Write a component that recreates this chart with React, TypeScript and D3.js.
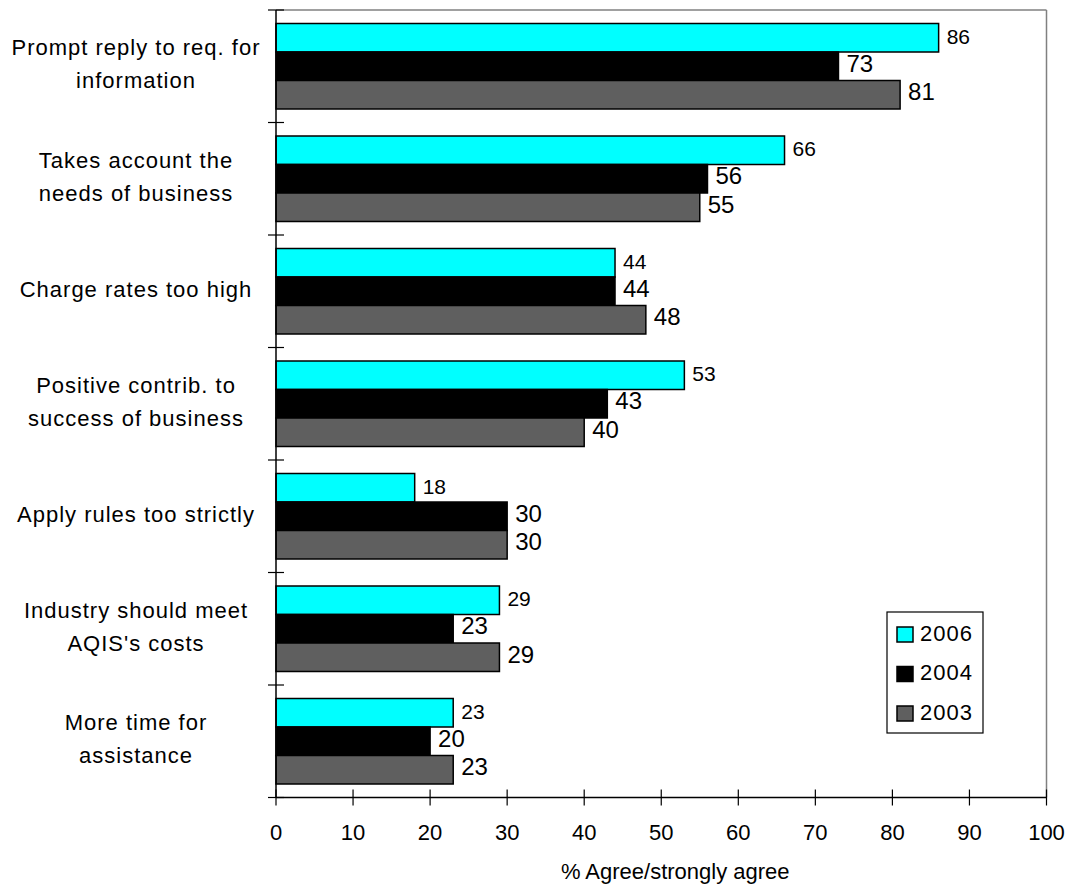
import React from "react";
import * as d3 from "d3";

const categories: string[][] = [
  ["Prompt reply to req. for", "information"],
  ["Takes account the", "needs of business"],
  ["Charge rates too high"],
  ["Positive contrib. to", "success of business"],
  ["Apply rules too strictly"],
  ["Industry should meet", "AQIS's costs"],
  ["More time for", "assistance"],
];
const seriesNames = ["2006", "2004", "2003"];
const v2006 = [86, 66, 44, 53, 18, 29, 23];
const v2004 = [73, 56, 44, 43, 30, 23, 20];
const v2003 = [81, 55, 48, 40, 30, 29, 23];
const colors = ["#00FFFF", "#000000", "#5F5F5F"];
const xTicks = [0, 10, 20, 30, 40, 50, 60, 70, 80, 90, 100];
const axisTitle = "% Agree/strongly agree";

export default function App() {
  const W = 1076, H = 886;
  const left = 276, right = 1046.5, top = 10, bottom = 797.5;
  const font = "Arial, 'Liberation Sans', sans-serif";
  const x = d3.scaleLinear().domain([0, 100]).range([left, right]);
  const idx = categories.map((_, i) => i);
  const y = d3.scaleBand<number>().domain(idx).range([top, bottom]).paddingInner(0.24).paddingOuter(0.12);
  const inner = d3.scaleBand<string>().domain(seriesNames).range([0, y.bandwidth()]);
  const series = [v2006, v2004, v2003];
  const labelSizes = [21, 24, 24];
  const labelShift = [-1.5, -3, -3];
  const step = (bottom - top) / categories.length;
  const boundaries = d3.range(categories.length + 1).map((i) => top + i * step);
  return (
    <svg width={W} height={H} style={{ position: "absolute", left: 0, top: 0 }} fontFamily={font}>
      <rect x={0} y={0} width={W} height={H} fill="#fff" />
      <line x1={left} x2={right} y1={top} y2={top} stroke="#808080" strokeWidth={1.5} />
      <line x1={right} x2={right} y1={top} y2={bottom} stroke="#808080" strokeWidth={1.5} />
      {idx.map((ci) =>
        series.map((s, si) => {
          const by = (y(ci) as number) + (inner(seriesNames[si]) as number);
          const bh = inner.bandwidth();
          return (
            <g key={`${ci}-${si}`}>
              <rect x={x(0)} y={by} width={x(s[ci]) - x(0)} height={bh} fill={colors[si]} stroke="#000" strokeWidth={1.5} />
              <text x={x(s[ci]) + 8} y={by + bh / 2 + labelShift[si]} dy="0.36em" fontSize={labelSizes[si]} fill="#000">{s[ci]}</text>
            </g>
          );
        })
      )}
      <line x1={left} x2={left} y1={top} y2={bottom} stroke="#000" strokeWidth={1.5} />
      {boundaries.map((b, i) => (
        <line key={i} x1={left - 8} x2={left + 8} y1={b} y2={b} stroke="#000" strokeWidth={1.2} />
      ))}
      <line x1={left} x2={right} y1={bottom} y2={bottom} stroke="#000" strokeWidth={1.5} />
      {xTicks.map((t) => (
        <g key={t}>
          <line x1={x(t)} x2={x(t)} y1={bottom - 8} y2={bottom + 8} stroke="#000" strokeWidth={1.2} />
          <text x={x(t)} y={bottom + 35} dy="0.36em" textAnchor="middle" fontSize={22} fill="#000">{t}</text>
        </g>
      ))}
      <text x={(left + right) / 2 + 14} y={bottom + 74} dy="0.36em" textAnchor="middle" fontSize={22} fill="#000">{axisTitle}</text>
      {categories.map((lines, ci) => {
        const cy = top + (ci + 0.5) * step;
        const offs = lines.length === 1 ? [-2] : [-19, 14];
        return (
          <text key={ci} textAnchor="middle" fontSize={22} letterSpacing={1} fill="#000">
            {lines.map((l, li) => (
              <tspan key={li} x={136} y={cy + offs[li]} dy="0.36em">{l}</tspan>
            ))}
          </text>
        );
      })}
      <rect x={887} y={612} width={96} height={121} fill="#fff" stroke="#000" strokeWidth={1.2} />
      {seriesNames.map((n, i) => (
        <g key={n}>
          <rect x={897} y={627 + i * 39.5} width={16} height={15} fill={colors[i]} stroke="#000" strokeWidth={1.5} />
          <text x={920} y={633 + i * 39.5} dy="0.36em" fontSize={22} letterSpacing={1} fill="#000">{n}</text>
        </g>
      ))}
    </svg>
  );
}
